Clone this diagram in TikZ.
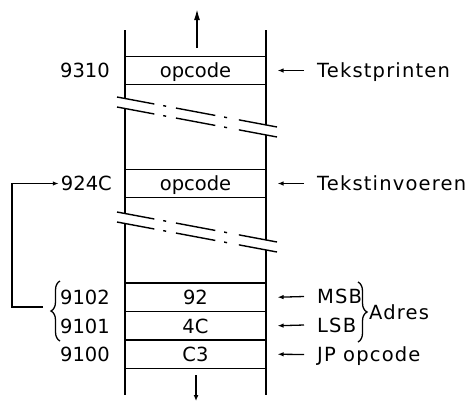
\documentclass[tikz,border=0pt]{standalone}
\usepackage{fontspec}
\setmainfont{DejaVu Sans}
\newfontfamily\widefont[LetterSpace=6]{DejaVu Sans}
\usetikzlibrary{arrows.meta,positioning,decorations.pathreplacing}

\begin{document}
\begin{tikzpicture}[x=1pt,y=-1pt,
 txt/.style={inner sep=0pt,text height=14.5pt,text depth=0pt,font=\fontsize{19.5}{23}\selectfont},
 cell/.style={txt,draw,line width=1.1pt,minimum width=141pt,minimum height=28.5pt},
 addr/.style={txt,anchor=east},
 note/.style={txt,anchor=west,font=\widefont\fontsize{19.5}{23}\selectfont},
 wall/.style={line width=2pt},
 cut/.style={line width=1.4pt,dash pattern=on 38pt off 9pt on 3pt off 10pt on 40pt off 9pt on 3pt off 12pt on 45pt},
 ptr/.style={-{Latex[length=6pt,width=4.5pt]},line width=1.3pt},
 flow/.style={-{Latex[length=11pt,width=6pt]},line width=1.6pt},
 brc/.style={decorate,decoration={brace,amplitude=9pt},line width=1.3pt}
]
\useasboundingbox (0,0) rectangle (473,405);
% memory cells
\node[cell] (c9310) at (195.5,70.5) {opcode};
\node[cell] (c924C) at (195.5,183.5) {opcode};
\node[cell] (c9102) at (195.5,297.25) {92};
\node[cell] (c9101) at (195.5,325.75) {4C};
\node[cell] (c9100) at (195.5,354.25) {C3};
% column walls with two cuts
\draw[wall] (125,30)--(125,98.5); \draw[wall] (125,108.5)--(125,213.5); \draw[wall] (125,223.5)--(125,395);
\draw[wall] (266,30)--(266,125); \draw[wall] (266,135)--(266,240); \draw[wall] (266,250)--(266,395);
\draw[cut] (117,97)--(277,127); \draw[cut] (117,107)--(277,137);
\draw[cut] (117,212)--(277,242); \draw[cut] (117,222)--(277,252);
% stack direction
\coordinate (upin) at (197,48); \coordinate (upout) at (197,9);
\coordinate (loin) at (196,375); \coordinate (loout) at (196,401);
\draw[flow] (upin)--(upout);
\draw[-{Latex[length=6pt,width=5pt]},line width=1.4pt] (loin)--(loout);
% addresses
\node[addr] (a9310) at (110,70.5) {9310};
\node[addr] (a924C) at (112,183.5) {924C};
\node[addr] (a9102) at (110,297.5) {9102};
\node[addr] (a9101) at (110,326) {9101};
\node[addr] (a9100) at (110,354.5) {9100};
\draw[brc] (60,341)--(60,281);
\coordinate (btip) at (43,307);
\draw[ptr,shorten >=2pt] (btip)--(12,307)|-(a924C.west);
% notes
\node[note] (tprint) at (317,70.5) {Tekstprinten};
\node[note] (tin) at (317,183.5) {Tekstinvoeren};
\node[note] (msb) at (317,296.5) {MSB};
\node[note] (lsb) at (317,325) {LSB};
\node[note] (jp) at (317,354.5) {JP opcode};
\draw[ptr] ([xshift=-13pt]tprint.west)--([xshift=11pt]c9310.east);
\draw[ptr] ([xshift=-13pt]tin.west)--([xshift=11pt]c924C.east);
\draw[ptr] ([xshift=-13pt]msb.west)--([xshift=11pt]c9102.east);
\draw[ptr] ([xshift=-13pt]lsb.west)--([xshift=11pt]c9101.east);
\draw[ptr] ([xshift=-13pt]jp.west)--([xshift=11pt]c9100.east);
\draw[brc] (358,282)--(358,342);
\node[note] (adr) at (369,312) {Adres};
\end{tikzpicture}
\end{document}
